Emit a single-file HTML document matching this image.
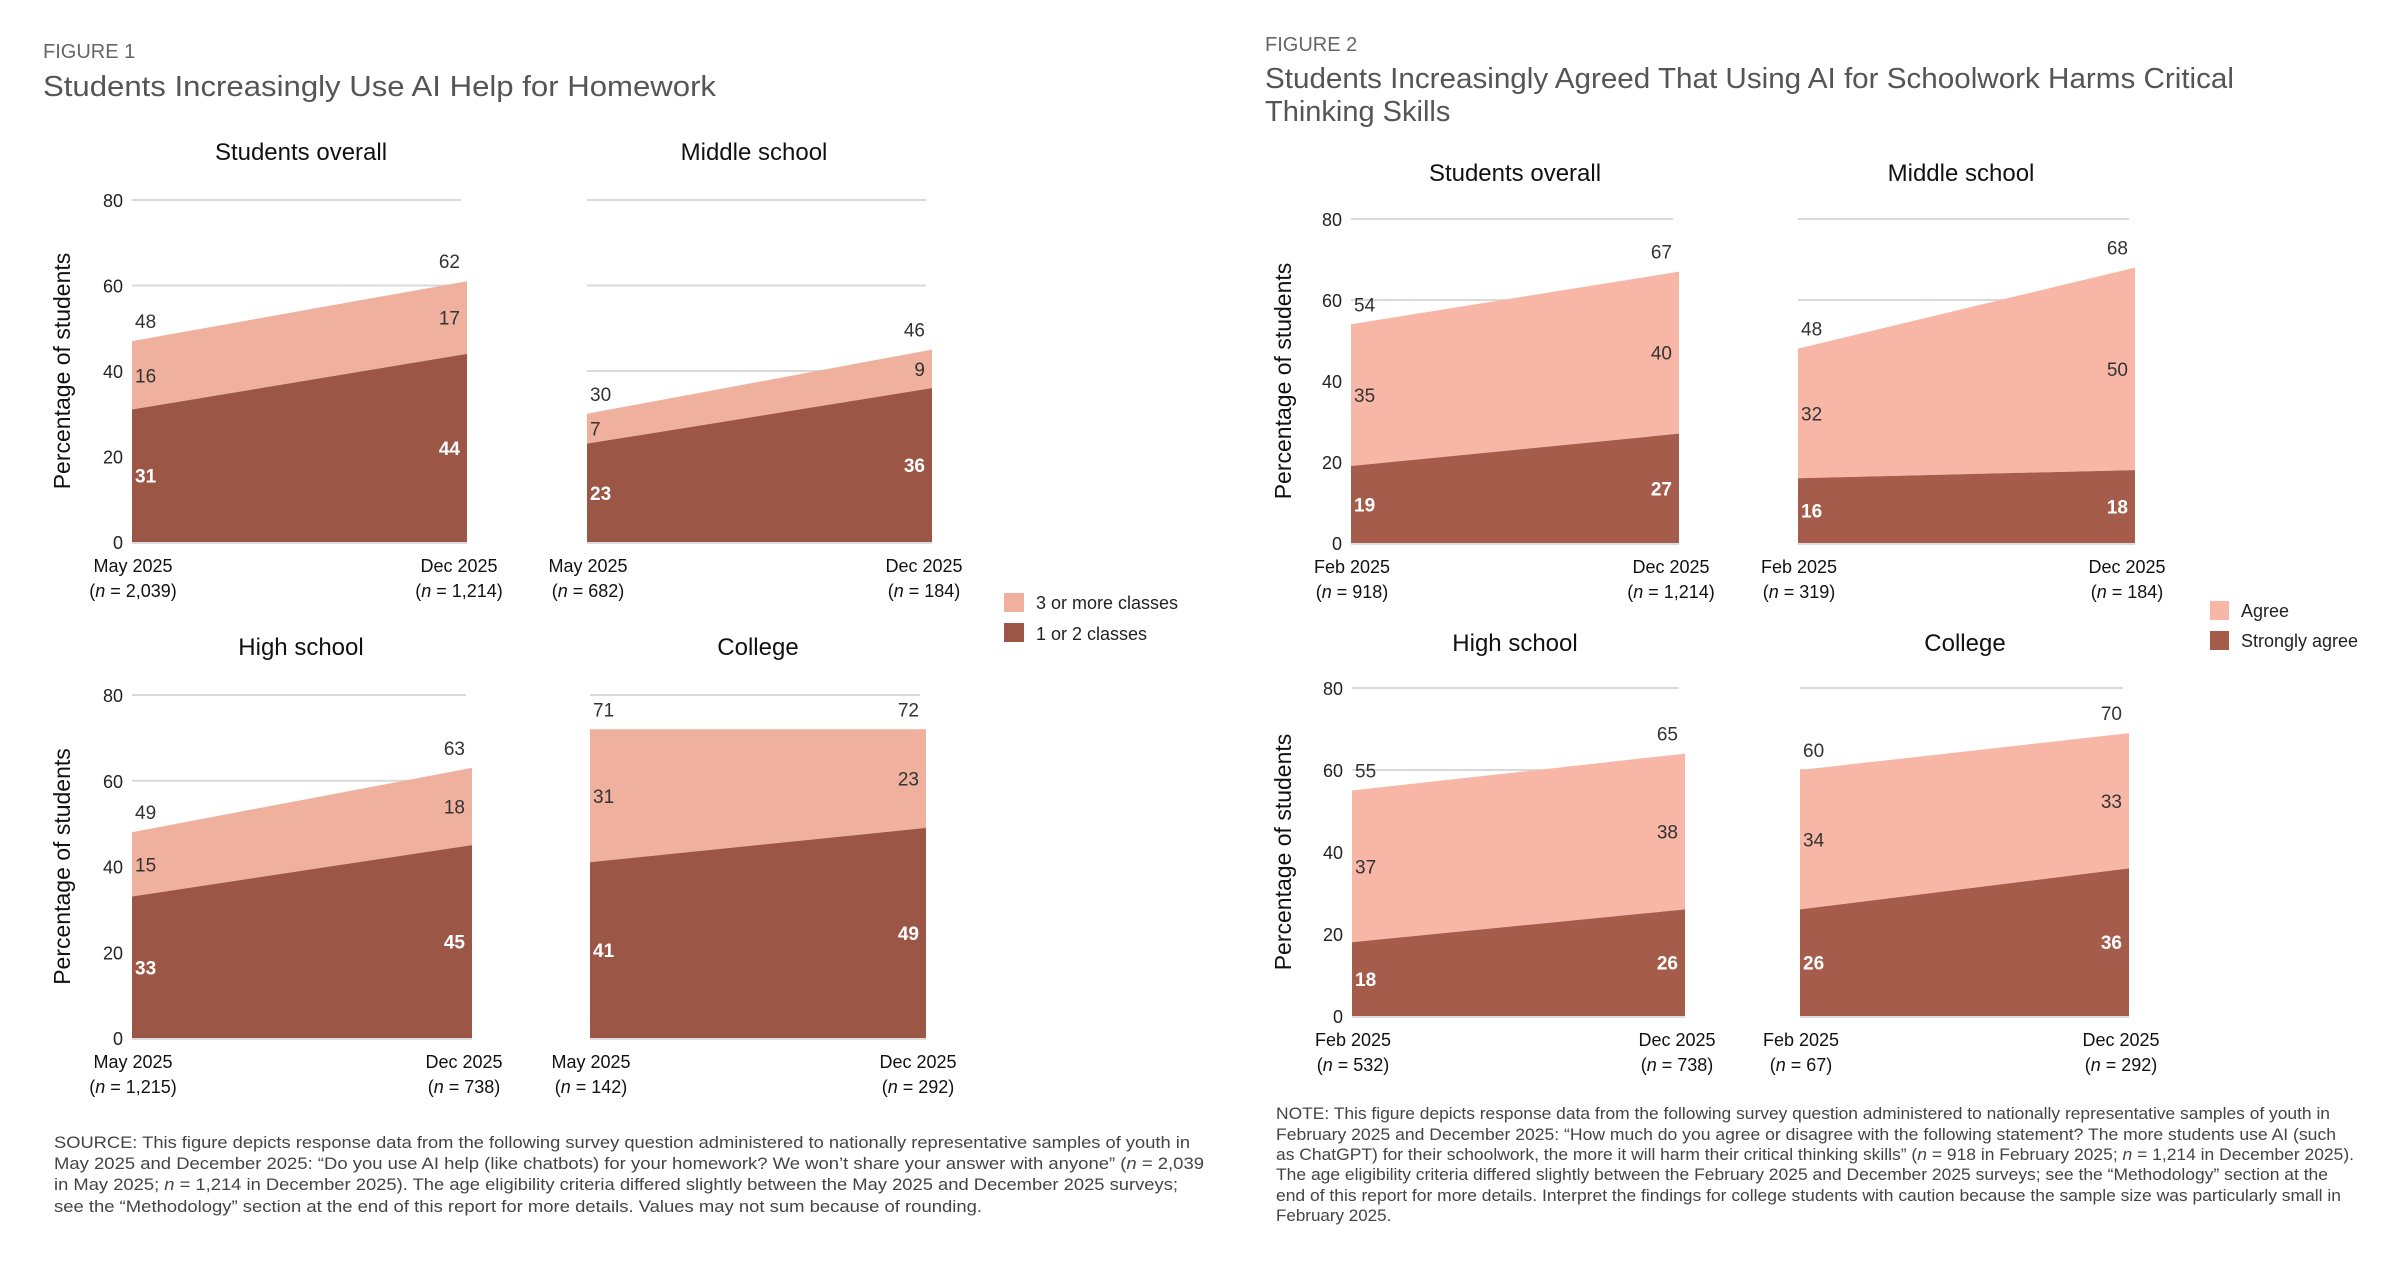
<!DOCTYPE html>
<html><head><meta charset="utf-8"><style>
html,body{margin:0;padding:0;background:#fff;}
svg{display:block;font-family:"Liberation Sans",sans-serif;}
</style></head><body>
<svg id="root" width="2400" height="1265" viewBox="0 0 2400 1265" xmlns="http://www.w3.org/2000/svg">
<text x="43" y="58" font-size="20" fill="#666">FIGURE 1</text>
<text x="43" y="96" font-size="29" fill="#555" textLength="673" lengthAdjust="spacingAndGlyphs">Students Increasingly Use AI Help for Homework</text>
<text x="1265" y="51" font-size="20" fill="#666">FIGURE 2</text>
<text x="1265" y="88" font-size="29" fill="#555" textLength="969" lengthAdjust="spacingAndGlyphs">Students Increasingly Agreed That Using AI for Schoolwork Harms Critical</text>
<text x="1265" y="121" font-size="29" fill="#555">Thinking Skills</text>

<g>
<rect x="1004" y="593" width="20" height="19" fill="#efb09e"/>
<text x="1036" y="609" font-size="18" fill="#222">3 or more classes</text>
<rect x="1004" y="623" width="20" height="19" fill="#9b5646"/>
<text x="1036" y="640" font-size="18" fill="#222">1 or 2 classes</text>
</g>
<g>
<rect x="2210" y="601" width="19" height="19" fill="#f8b7a6"/>
<text x="2241" y="617" font-size="18" fill="#222">Agree</text>
<rect x="2210" y="631" width="19" height="19" fill="#a65c4a"/>
<text x="2241" y="647" font-size="18" fill="#222">Strongly agree</text>
</g>

<g font-size="17" fill="#444">
<text x="54" y="1148" textLength="1136" lengthAdjust="spacingAndGlyphs">SOURCE: This figure depicts response data from the following survey question administered to nationally representative samples of youth in</text>
<text x="54" y="1169" textLength="1150" lengthAdjust="spacingAndGlyphs">May 2025 and December 2025: “Do you use AI help (like chatbots) for your homework? We won’t share your answer with anyone” (<tspan font-style="italic">n</tspan> = 2,039</text>
<text x="54" y="1190" textLength="1124" lengthAdjust="spacingAndGlyphs">in May 2025; <tspan font-style="italic">n</tspan> = 1,214 in December 2025). The age eligibility criteria differed slightly between the May 2025 and December 2025 surveys;</text>
<text x="54" y="1212" textLength="928" lengthAdjust="spacingAndGlyphs">see the “Methodology” section at the end of this report for more details. Values may not sum because of rounding.</text>
</g>
<g font-size="17" fill="#444">
<text x="1276" y="1119" textLength="1054" lengthAdjust="spacingAndGlyphs">NOTE: This figure depicts response data from the following survey question administered to nationally representative samples of youth in</text>
<text x="1276" y="1140" textLength="1060" lengthAdjust="spacingAndGlyphs">February 2025 and December 2025: “How much do you agree or disagree with the following statement? The more students use AI (such</text>
<text x="1276" y="1160" textLength="1078" lengthAdjust="spacingAndGlyphs">as ChatGPT) for their schoolwork, the more it will harm their critical thinking skills” (<tspan font-style="italic">n</tspan> = 918 in February 2025; <tspan font-style="italic">n</tspan> = 1,214 in December 2025).</text>
<text x="1276" y="1180" textLength="1052" lengthAdjust="spacingAndGlyphs">The age eligibility criteria differed slightly between the February 2025 and December 2025 surveys; see the “Methodology” section at the</text>
<text x="1276" y="1201" textLength="1065" lengthAdjust="spacingAndGlyphs">end of this report for more details. Interpret the findings for college students with caution because the sample size was particularly small in</text>
<text x="1276" y="1221">February 2025.</text>
</g>
<g id="charts"></g>
</svg>
<script>
// ---- Figure 1 data ----
const fig1Panels = ["Students overall", "Middle school", "High school", "College"];
const fig1Periods = ["May 2025", "Dec 2025"];
const fig1Dark = [[31, 44], [23, 36], [33, 45], [41, 49]];
const fig1Light = [[16, 17], [7, 9], [15, 18], [31, 23]];
const fig1Totals = [[48, 62], [30, 46], [49, 63], [71, 72]];
const fig1N = [["2,039", "1,214"], ["682", "184"], ["1,215", "738"], ["142", "292"]];
// ---- Figure 2 data ----
const fig2Panels = ["Students overall", "Middle school", "High school", "College"];
const fig2Periods = ["Feb 2025", "Dec 2025"];
const fig2Dark = [[19, 27], [16, 18], [18, 26], [26, 36]];
const fig2Light = [[35, 40], [32, 50], [37, 38], [34, 33]];
const fig2Totals = [[54, 67], [48, 68], [55, 65], [60, 70]];
const fig2N = [["918", "1,214"], ["319", "184"], ["532", "738"], ["67", "292"]];
const yTicks = [0, 20, 40, 60, 80];

const NS = "http://www.w3.org/2000/svg";
const root = document.getElementById("charts");
function mk(tag, attrs, parent) {
  const e = document.createElementNS(NS, tag);
  for (const k in attrs) e.setAttribute(k, attrs[k]);
  parent.appendChild(e);
  return e;
}

const fig1Layout = [
  {x0: 132, x1: 467, yt: 200, yb: 542, tx: 301, ty: 160, ticks: true},
  {x0: 587, x1: 932, yt: 200, yb: 542, tx: 754, ty: 160, ticks: false},
  {x0: 132, x1: 472, yt: 695, yb: 1038, tx: 301, ty: 655, ticks: true},
  {x0: 590, x1: 926, yt: 695, yb: 1038, tx: 758, ty: 655, ticks: false}
];
const fig2Layout = [
  {x0: 1351, x1: 1679, yt: 219, yb: 543, tx: 1515, ty: 181, ticks: true},
  {x0: 1798, x1: 2135, yt: 219, yb: 543, tx: 1961, ty: 181, ticks: false},
  {x0: 1352, x1: 1685, yt: 688, yb: 1016, tx: 1515, ty: 651, ticks: true},
  {x0: 1800, x1: 2129, yt: 688, yb: 1016, tx: 1965, ty: 651, ticks: false}
];

function drawFigure(figName, panels, periods, dark, light, totals, ns, layout, cDark, cLight) {
  panels.forEach((name, i) => {
    const L = layout[i];
    const g = mk("g", {}, root);
    
    
    const yS = v => L.yb - (v / 80) * (L.yb - L.yt);
    const xS = j => j === 0 ? L.x0 : L.x1;
    const t = mk("text", {x: L.tx, y: L.ty, "font-size": 24, "text-anchor": "middle", fill: "#111"}, g);
    t.textContent = name;
    
    
    yTicks.forEach(v => {
      if (v === 0) return;
      const gl = mk("line", {x1: L.x0, x2: L.x1 - 6, y1: yS(v), y2: yS(v), stroke: "#d9d9d9", "stroke-width": 2}, g);
      
      
      if (L.ticks) {
        const tl = mk("text", {x: L.x0 - 9, y: yS(v) + 7, "font-size": 18, "text-anchor": "end", fill: "#222"}, g);
        tl.textContent = v;
        
        
      }
    });
    if (L.ticks) {
      const tl = mk("text", {x: L.x0 - 9, y: yS(0) + 7, "font-size": 18, "text-anchor": "end", fill: "#222"}, g);
      tl.textContent = 0;
      
      
      const cx = figName === 'figure-1' ? 62 : 1283;
      const cy = (L.yt + L.yb) / 2;
      const yt = mk("text", {x: cx, y: cy, "font-size": 23, "text-anchor": "middle", fill: "#111", transform: `rotate(-90 ${cx} ${cy}) translate(0 8)`}, g);
      yt.textContent = "Percentage of students";
      
      
    }
    const d0 = dark[i][0], d1 = dark[i][1];
    const s0 = d0 + light[i][0], s1 = d1 + light[i][1];
    const la = mk("polygon", {points: `${xS(0)},${yS(d0)} ${xS(1)},${yS(d1)} ${xS(1)},${yS(s1)} ${xS(0)},${yS(s0)}`, fill: cLight}, g);
    
    
    const da = mk("polygon", {points: `${xS(0)},${yS(0)} ${xS(1)},${yS(0)} ${xS(1)},${yS(d1)} ${xS(0)},${yS(d0)}`, fill: cDark}, g);
    
    
    mk("line", {x1: L.x0, x2: L.x1, y1: yS(0) + 1, y2: yS(0) + 1, stroke: "#ddd", "stroke-width": 2}, g);
    [0, 1].forEach(j => {
      const lx = j === 0 ? L.x0 + 3 : L.x1 - 7;
      const anchor = j === 0 ? "start" : "end";
      const dv = dark[i][j], lv = light[i][j];
      const a = mk("text", {x: lx, y: yS(dv / 2) + 7, "font-size": 19, "font-weight": "bold", "text-anchor": anchor, fill: "#fff"}, g);
      a.textContent = dv;
      
      
      const b = mk("text", {x: lx, y: yS(dv + lv / 2) + 7, "font-size": 19, "text-anchor": anchor, fill: "#333"}, g);
      b.textContent = lv;
      
      
      const c = mk("text", {x: lx, y: yS(dv + lv) - 13, "font-size": 19, "text-anchor": anchor, fill: "#333"}, g);
      c.textContent = totals[i][j];
      
      
      const lxc = j === 0 ? xS(0) + 1 : xS(1) - 8;
      const xl = mk("text", {x: lxc, y: L.yb + 30, "font-size": 18, "text-anchor": "middle", fill: "#111"}, g);
      xl.textContent = periods[j];
      
      
      const nl = mk("text", {x: lxc, y: L.yb + 55, "font-size": 18, "text-anchor": "middle", fill: "#111"}, g);
      
      
      nl.appendChild(document.createTextNode("("));
      const it = mk("tspan", {"font-style": "italic"}, nl);
      it.textContent = "n";
      nl.appendChild(document.createTextNode(" = " + ns[i][j] + ")"));
    });
  });
}
drawFigure('figure-1', fig1Panels, fig1Periods, fig1Dark, fig1Light, fig1Totals, fig1N, fig1Layout, "#9b5646", "#efb09e");
drawFigure('figure-2', fig2Panels, fig2Periods, fig2Dark, fig2Light, fig2Totals, fig2N, fig2Layout, "#a65c4a", "#f8b7a6");
</script>
</body></html>
